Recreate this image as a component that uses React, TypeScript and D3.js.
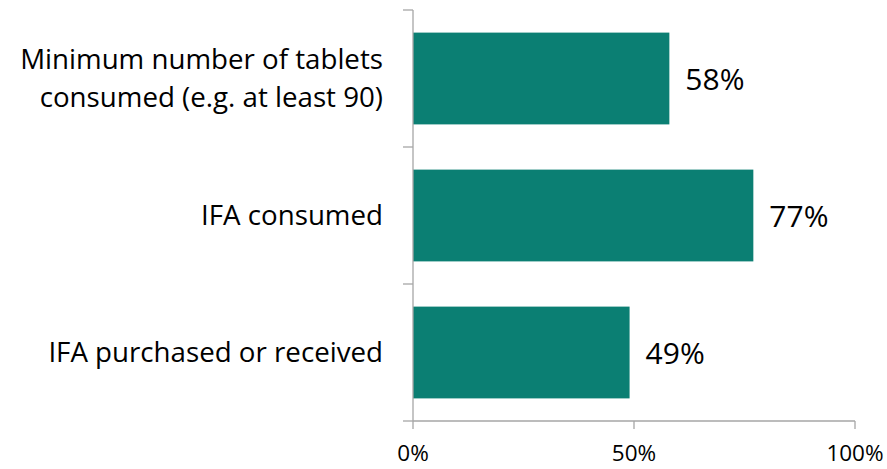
import React from "react";
import * as d3 from "d3";

const categories: string[][] = [
  ["Minimum number of tablets", "consumed (e.g. at least 90)"],
  ["IFA consumed"],
  ["IFA purchased or received"],
];
const values: number[] = [58, 77, 49];
const xTicks: number[] = [0, 50, 100];

const W = 887;
const H = 469;
const FONT = "'Open Sans', Calibri, sans-serif";

export default function App() {
  const left = 413;
  const right = 855;
  const top = 10;
  const bottom = 421;
  const keys = categories.map((_, i) => String(i));
  const x = d3.scaleLinear().domain([0, 100]).range([left, right]);
  const y = d3.scaleBand<string>().domain(keys).range([top, bottom]).paddingInner(0.33).paddingOuter(0.165);
  const step = y.step();
  const boundaries = d3.range(categories.length + 1).map((i) => top + i * step);
  const axisColor = "#a6a6a6";

  return (
    <svg width={W} height={H} style={{ position: "absolute", left: 0, top: 0, background: "#fff" }}>
      {values.map((v, i) => (
        <rect
          key={"b" + i}
          x={x(0)}
          y={y(keys[i])}
          width={x(v) - x(0)}
          height={y.bandwidth()}
          fill="#0b7f73"
        />
      ))}
      {/* y axis */}
      <line x1={left} x2={left} y1={top} y2={bottom} stroke={axisColor} strokeWidth={1.3} />
      {boundaries.map((b, i) => (
        <line key={"yt" + i} x1={left - 10} x2={left} y1={b} y2={b} stroke={axisColor} strokeWidth={1.3} />
      ))}
      {/* x axis */}
      <line x1={left} x2={right} y1={bottom} y2={bottom} stroke={axisColor} strokeWidth={1.3} />
      {xTicks.map((t) => (
        <g key={"xt" + t}>
          <line x1={x(t)} x2={x(t)} y1={bottom} y2={bottom + 8} stroke={axisColor} strokeWidth={1.3} />
          <text
            x={x(t)}
            y={461}
            textAnchor="middle"
            fontFamily={FONT}
            fontSize={22.5}
            fill="#000"
          >
            {t + "%"}
          </text>
        </g>
      ))}
      {/* category labels */}
      {categories.map((lines, i) => {
        const c = (y(keys[i]) as number) + y.bandwidth() / 2;
        const lh = 37.5;
        const first = c + 9.3 - ((lines.length - 1) * lh) / 2;
        return (
          <text key={"c" + i} textAnchor="end" fontFamily={FONT} fontSize={27.7} fill="#000">
            {lines.map((ln, j) => (
              <tspan key={j} x={383} y={first + j * lh}>
                {ln}
              </tspan>
            ))}
          </text>
        );
      })}
      {/* value labels */}
      {values.map((v, i) => {
        const c = (y(keys[i]) as number) + y.bandwidth() / 2;
        return (
          <text
            key={"v" + i}
            x={x(v) + 16}
            y={c + 11}
            fontFamily={FONT}
            fontSize={30}
            fill="#000"
          >
            {v + "%"}
          </text>
        );
      })}
    </svg>
  );
}
